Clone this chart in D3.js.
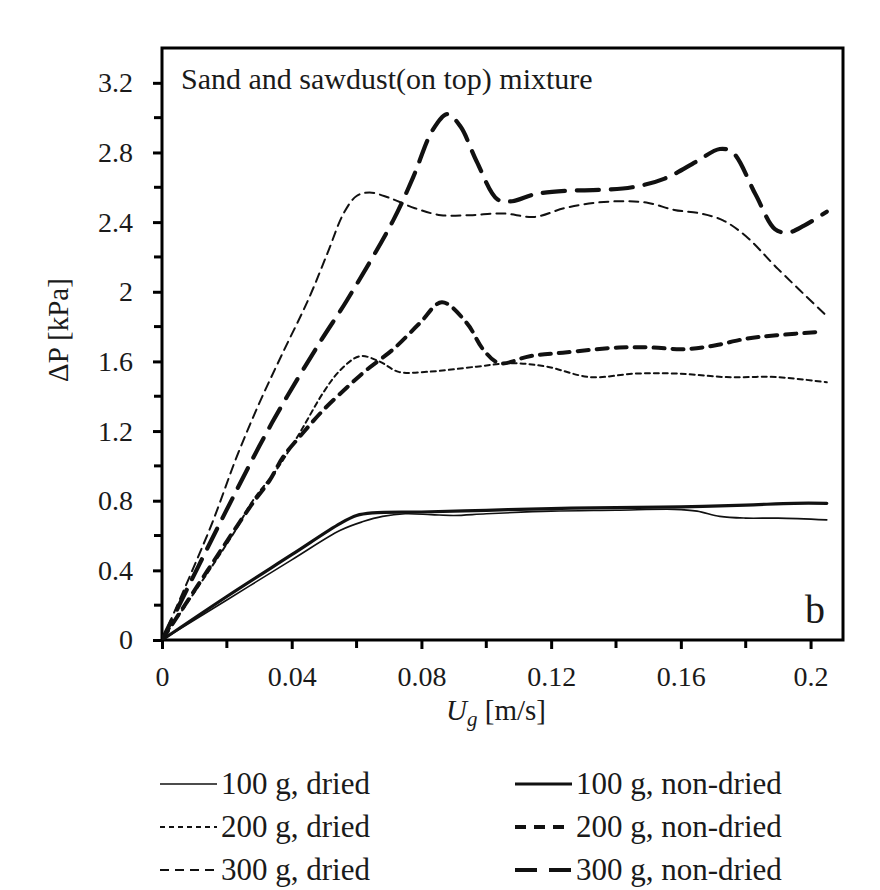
<!DOCTYPE html>
<html>
<head>
<meta charset="utf-8">
<script src="https://cdn.jsdelivr.net/npm/d3@7"></script>
<style>
    body { margin: 0; background: #fff; }
    svg text { font-family: "Liberation Serif", "DejaVu Serif", serif; fill: #1a1a1a; }
</style>
</head>
<body>
<div id="chart"></div>
<script>
// Pressure drop vs superficial gas velocity, sand + sawdust (on top)
const dried100 = [[0,0],[0.02,0.23],[0.04,0.46],[0.055,0.63],[0.062,0.68],[0.068,0.71],[0.075,0.725],[0.083,0.72],[0.09,0.715],[0.1,0.725],[0.12,0.74],[0.14,0.745],[0.158,0.75],[0.165,0.74],[0.172,0.71],[0.18,0.70],[0.19,0.70],[0.205,0.69]];
const nonDried100 = [[0,0],[0.02,0.25],[0.04,0.49],[0.055,0.67],[0.06,0.715],[0.065,0.73],[0.08,0.735],[0.1,0.745],[0.12,0.755],[0.14,0.76],[0.16,0.765],[0.18,0.775],[0.195,0.785],[0.205,0.785]];
const dried200 = [[0,0],[0.022,0.61],[0.028,0.8],[0.0354,0.98],[0.0425,1.19],[0.0497,1.42],[0.055,1.55],[0.061,1.63],[0.067,1.6],[0.073,1.54],[0.0816,1.54],[0.097,1.57],[0.108,1.59],[0.1186,1.57],[0.132,1.51],[0.146,1.53],[0.159,1.53],[0.174,1.51],[0.1895,1.51],[0.205,1.48]];
const nonDried200 = [[0,0],[0.027,0.76],[0.0333,0.92],[0.0373,1.05],[0.0435,1.19],[0.0497,1.32],[0.057,1.45],[0.063,1.55],[0.0713,1.67],[0.0795,1.82],[0.0863,1.94],[0.094,1.82],[0.099,1.67],[0.104,1.59],[0.1134,1.63],[0.1236,1.65],[0.141,1.68],[0.151,1.68],[0.1606,1.67],[0.17,1.69],[0.18,1.73],[0.1895,1.75],[0.203,1.77]];
const dried300 = [[0,0],[0.015,0.65],[0.023,1.05],[0.03,1.36],[0.037,1.64],[0.045,1.95],[0.051,2.22],[0.056,2.45],[0.06,2.55],[0.064,2.57],[0.07,2.54],[0.078,2.48],[0.086,2.44],[0.095,2.44],[0.105,2.45],[0.115,2.43],[0.124,2.48],[0.133,2.51],[0.142,2.52],[0.15,2.51],[0.158,2.47],[0.166,2.45],[0.173,2.41],[0.18,2.32],[0.19,2.13],[0.205,1.86]];
const nonDried300 = [[0,0],[0.02,0.75],[0.034,1.25],[0.0487,1.71],[0.057,1.95],[0.0713,2.41],[0.0775,2.66],[0.0835,2.93],[0.088,3.02],[0.092,2.95],[0.097,2.75],[0.1035,2.53],[0.108,2.52],[0.115,2.56],[0.125,2.58],[0.135,2.585],[0.145,2.6],[0.155,2.65],[0.165,2.75],[0.172,2.82],[0.176,2.8],[0.183,2.56],[0.189,2.36],[0.193,2.34],[0.198,2.38],[0.205,2.46]];

const xTicks = [0, 0.04, 0.08, 0.12, 0.16, 0.2];
const yTicks = [0, 0.4, 0.8, 1.2, 1.6, 2, 2.4, 2.8, 3.2];

const seriesList = [
    {label: "100 g, dried", data: dried100, width: 1.6, dash: null},
    {label: "100 g, non-dried", data: nonDried100, width: 3.2, dash: null},
    {label: "200 g, dried", data: dried200, width: 2, dash: "5,4"},
    {label: "200 g, non-dried", data: nonDried200, width: 4, dash: "11,8"},
    {label: "300 g, dried", data: dried300, width: 2, dash: "9,6"},
    {label: "300 g, non-dried", data: nonDried300, width: 4.2, dash: "22,12"}
];

const W = 880, H = 890;
const margin = {top: 48, right: 37, bottom: 250, left: 162};
const width = W - margin.left - margin.right;
const height = H - margin.top - margin.bottom;

const svg = d3.select("#chart").append("svg")
    .attr("width", W)
    .attr("height", H);

const g = svg.append("g")
    .attr("transform", `translate(${margin.left},${margin.top})`);

const x = d3.scaleLinear().domain([0, 0.21]).range([0, width]);
const y = d3.scaleLinear().domain([0, 3.4]).range([height, 0]);

g.append("clipPath").attr("id", "plot-clip")
    .append("rect").attr("width", width).attr("height", height);

// minor ticks
const xMinor = d3.range(0.02, 0.21, 0.04);
const yMinor = d3.range(0.2, 3.4, 0.4);

g.selectAll(".xminor").data(xMinor).enter().append("line")
    .attr("x1", d => x(d)).attr("x2", d => x(d))
    .attr("y1", height).attr("y2", height + 8)
    .attr("stroke", "#000").attr("stroke-width", 3);

g.selectAll(".yminor").data(yMinor).enter().append("line")
    .attr("x1", -8).attr("x2", 0)
    .attr("y1", d => y(d)).attr("y2", d => y(d))
    .attr("stroke", "#000").attr("stroke-width", 3);

// axes
const xAxis = g.append("g")
    .attr("transform", `translate(0,${height})`)
    .call(d3.axisBottom(x).tickValues(xTicks).tickFormat(d3.format("")).tickSize(9).tickPadding(17));
const yAxis = g.append("g")
    .call(d3.axisLeft(y).tickValues(yTicks).tickFormat(d3.format("")).tickSize(9).tickPadding(20));

[xAxis, yAxis].forEach(a => {
    a.select(".domain").remove();
    a.selectAll(".tick line").attr("stroke", "#000").attr("stroke-width", 3);
    a.selectAll(".tick text").style("font-size", "28px").attr("fill", "#1a1a1a");
});

// frame
g.append("rect")
    .attr("width", width).attr("height", height)
    .attr("fill", "none").attr("stroke", "#000").attr("stroke-width", 3);

// lines
const line = d3.line()
    .x(d => x(d[0]))
    .y(d => y(d[1]))
    .curve(d3.curveCatmullRom.alpha(0.5));

const lines = g.append("g").attr("clip-path", "url(#plot-clip)");
seriesList.forEach(s => {
    lines.append("path")
        .datum(s.data)
        .attr("d", line)
        .attr("fill", "none")
        .attr("stroke", "#111")
        .attr("stroke-width", s.width)
        .attr("stroke-linecap", "round")
        .attr("stroke-dasharray", s.dash);
});

// annotations
g.append("text")
    .attr("x", 19).attr("y", 41)
    .style("font-size", "30px")
    .text("Sand and sawdust(on top) mixture");

g.append("text")
    .attr("x", width - 38).attr("y", height - 17)
    .style("font-size", "40px")
    .text("b");

// axis labels
svg.append("text")
    .attr("transform", `translate(68,330) rotate(-90)`)
    .attr("text-anchor", "middle")
    .style("font-size", "29px")
    .text("\u0394P [kPa]");

const xl = svg.append("text")
    .attr("x", 496).attr("y", 720)
    .attr("text-anchor", "middle")
    .style("font-size", "29px");
xl.append("tspan").style("font-style", "italic").text("U");
xl.append("tspan").style("font-style", "italic").style("font-size", "21px").attr("dy", 6).text("g");
xl.append("tspan").attr("dy", -6).text(" [m/s]");

// legend
const legendCols = [160, 515];
const legendRows = [784, 827, 870];
seriesList.forEach((s, i) => {
    const col = i % 2, row = Math.floor(i / 2);
    const lx = legendCols[col], ly = legendRows[row];
    svg.append("line")
        .attr("x1", lx).attr("x2", lx + 57)
        .attr("y1", ly).attr("y2", ly)
        .attr("stroke", "#111")
        .attr("stroke-width", s.width)
        .attr("stroke-dasharray", s.dash);
    svg.append("text")
        .attr("x", lx + 61).attr("y", ly + 10)
        .style("font-size", "31px")
        .text(s.label);
});
</script>
</body>
</html>
